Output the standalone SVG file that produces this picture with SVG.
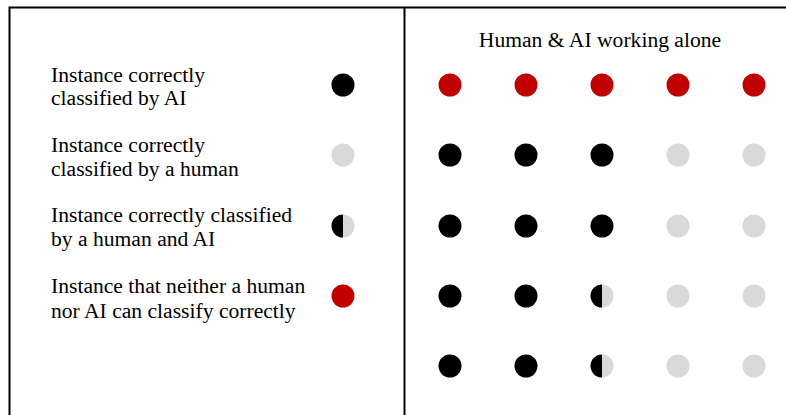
<svg xmlns="http://www.w3.org/2000/svg" width="786" height="415" viewBox="0 0 786 415">
<style>
.t{font-family:"Liberation Serif","Times New Roman",serif;font-size:21.6px;fill:#000}
.b{fill:#000}.g{fill:#d9d9d9}.r{fill:#c00000}
.frame{fill:none;stroke:#000;stroke-width:2}
</style>
<defs>
<g id="half"><path class="b" d="M0,-11.5 A11.5,11.5 0 0 0 0,11.5 Z"/><path class="g" d="M0,-11.5 A11.5,11.5 0 0 1 0,11.5 Z"/></g>
</defs>
<g id="frame">
<path class="frame" d="M9.5,420 V7.5 H790"/>
<line class="frame" x1="404.5" y1="7" x2="404.5" y2="420"/>
</g>
<g id="legend">
<g id="leg1"><text class="t" x="51" y="82">Instance correctly</text><text class="t" x="51" y="105">classified by AI</text><circle class="b" cx="343" cy="85" r="11.5"/></g>
<g id="leg2"><text class="t" x="51" y="152">Instance correctly</text><text class="t" x="51" y="176">classified by a human</text><circle class="g" cx="343" cy="155" r="11.5"/></g>
<g id="leg3"><text class="t" x="51" y="222">Instance correctly classified</text><text class="t" x="51" y="246">by a human and AI</text><use href="#half" x="343" y="226"/></g>
<g id="leg4"><text class="t" x="51" y="293">Instance that neither a human</text><text class="t" x="51" y="318">nor AI can classify correctly</text><circle class="r" cx="343" cy="296" r="11.5"/></g>
</g>
<g id="grid">
<text class="t" x="600" y="47" text-anchor="middle">Human &amp; AI working alone</text>
<circle class="r" cx="450" cy="85" r="11.5"/><circle class="r" cx="526" cy="85" r="11.5"/><circle class="r" cx="602" cy="85" r="11.5"/><circle class="r" cx="678" cy="85" r="11.5"/><circle class="r" cx="754" cy="85" r="11.5"/>
<circle class="b" cx="450" cy="155" r="11.5"/><circle class="b" cx="526" cy="155" r="11.5"/><circle class="b" cx="602" cy="155" r="11.5"/><circle class="g" cx="678" cy="155" r="11.5"/><circle class="g" cx="754" cy="155" r="11.5"/>
<circle class="b" cx="450" cy="226" r="11.5"/><circle class="b" cx="526" cy="226" r="11.5"/><circle class="b" cx="602" cy="226" r="11.5"/><circle class="g" cx="678" cy="226" r="11.5"/><circle class="g" cx="754" cy="226" r="11.5"/>
<circle class="b" cx="450" cy="296" r="11.5"/><circle class="b" cx="526" cy="296" r="11.5"/><use href="#half" x="602" y="296"/><circle class="g" cx="678" cy="296" r="11.5"/><circle class="g" cx="754" cy="296" r="11.5"/>
<circle class="b" cx="450" cy="366" r="11.5"/><circle class="b" cx="526" cy="366" r="11.5"/><use href="#half" x="602" y="366"/><circle class="g" cx="678" cy="366" r="11.5"/><circle class="g" cx="754" cy="366" r="11.5"/>
</g>
</svg>
